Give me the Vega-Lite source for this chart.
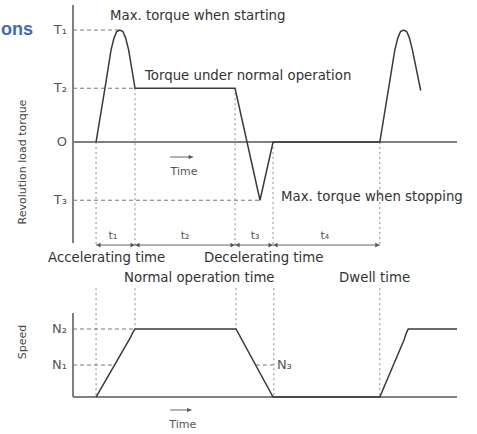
{
"$schema":"https://vega.github.io/schema/vega-lite/v6.json",
"width":477,"height":434,"padding":0,
"autosize":{"type":"fit","contains":"padding"},
"background":"white",
"config":{"view":{"stroke":null},"text":{"font":"DejaVu Sans","baseline":"middle"}},
"datasets":{
"torqueCurve":[{"t":6.0,"v":0},{"t":8.33,"v":48},{"t":9.9,"v":82},{"t":10.7,"v":93},{"t":11.4,"v":98.6},{"t":12.24,"v":100},{"t":13.0,"v":98.6},{"t":13.7,"v":93},{"t":14.5,"v":82},{"t":16.15,"v":48},{"t":42.2,"v":48},{"t":48.7,"v":-52},{"t":52.1,"v":0},{"t":79.9,"v":0},{"t":82.2,"v":48},{"t":83.8,"v":82},{"t":84.6,"v":93},{"t":85.3,"v":98.6},{"t":86.1,"v":100},{"t":86.9,"v":98.6},{"t":87.6,"v":93},{"t":88.4,"v":82},{"t":90.55,"v":46}],
"speedCurve":[{"t":6.0,"v":0},{"t":14.9,"v":86.8},{"t":15.6,"v":95},{"t":16.15,"v":100},{"t":42.45,"v":100},{"t":52.1,"v":0},{"t":79.9,"v":0},{"t":86.2,"v":83.8},{"t":86.8,"v":94},{"t":87.3,"v":100},{"t":100,"v":100}],
"torqueDotted":[{"t":6.0,"v":0,"v2":-92},{"t":16.15,"v":48,"v2":-92},{"t":42.2,"v":48,"v2":-92},{"t":52.1,"v":0,"v2":-92},{"t":79.9,"v":0,"v2":-92}],
"speedDotted":[{"t":6.0,"v":160,"v2":0},{"t":16.15,"v":160,"v2":100},{"t":42.45,"v":160,"v2":100},{"t":52.3,"v":160,"v2":0},{"t":79.9,"v":160,"v2":0}],
"torqueDashed":[{"t":0,"t2":12.24,"v":100},{"t":0,"t2":16.15,"v":48},{"t":0,"t2":48.7,"v":-52}],
"speedDashed":[{"t":0,"t2":16.15,"v":100},{"t":0,"t2":10.9,"v":47},{"t":47.6,"t2":52.2,"v":47}],
"torqueAxes":[{"t":0,"t2":0,"v":122.3,"v2":-90.2},{"t":0,"t2":100,"v":0,"v2":0}],
"speedAxes":[{"t":0,"t2":0,"v":123.5,"v2":0},{"t":0,"t2":100,"v":0,"v2":0}],
"torqueArrows":[{"t":6.0,"t2":79.9,"v":-92},{"t":25.3,"t2":31.3,"v":-13.4}],
"torqueHeadsR":[{"t":16.15,"v":-92},{"t":42.2,"v":-92},{"t":52.1,"v":-92},{"t":79.9,"v":-92},{"t":31.3,"v":-13.4}],
"torqueHeadsL":[{"t":6.0,"v":-92},{"t":16.15,"v":-92},{"t":42.2,"v":-92},{"t":52.1,"v":-92}],
"speedArrows":[{"t":25.3,"t2":30.9,"v":-19.1}],
"speedHeadsR":[{"t":30.9,"v":-19.1}],
"torqueLabels":[
{"t":9.64,"v":112.5,"text":"Max. torque when starting","kind":"left"},
{"t":18.75,"v":58.9,"text":"Torque under normal operation","kind":"left"},
{"t":54.2,"v":-49.1,"text":"Max. torque when stopping","kind":"left"},
{"t":-6.5,"v":-103.6,"text":"Accelerating time","kind":"left"},
{"t":34.1,"v":-103.6,"text":"Decelerating time","kind":"left"},
{"t":13.3,"v":-121.4,"text":"Normal operation time","kind":"left"},
{"t":69.3,"v":-121.4,"text":"Dwell time","kind":"left"},
{"t":-1.56,"v":100,"text":"T₁","kind":"tick"},
{"t":-1.56,"v":48,"text":"T₂","kind":"tick"},
{"t":-1.56,"v":0,"text":"O","kind":"tick"},
{"t":-1.56,"v":-52,"text":"T₃","kind":"tick"},
{"t":10.4,"v":-83.9,"text":"t₁","kind":"small"},
{"t":29.2,"v":-83.9,"text":"t₂","kind":"small"},
{"t":47.4,"v":-83.9,"text":"t₃","kind":"small"},
{"t":65.6,"v":-83.9,"text":"t₄","kind":"small"},
{"t":28.9,"v":-26.8,"text":"Time","kind":"small"},
{"t":-13.0,"v":-17.9,"text":"Revolution load torque","kind":"rot"},
{"t":-10.4,"v":100,"text":"ons","kind":"brand"}
],
"speedLabels":[
{"t":-1.56,"v":100,"text":"N₂","kind":"tick"},
{"t":-1.56,"v":47,"text":"N₁","kind":"tick"},
{"t":53.1,"v":47,"text":"N₃","kind":"left"},
{"t":28.6,"v":-41.2,"text":"Time","kind":"small"},
{"t":-13.0,"v":80.9,"text":"Speed","kind":"rot"}
]
},
"layer":[
{"layer":[
{"data":{"name":"torqueDotted"},"mark":{"type":"rule","color":"#8a8a8a","strokeWidth":1,"strokeDash":[2,3]},
 "encoding":{"x":{"field":"t","type":"quantitative","scale":{"domain":[-19.01,105.21],"nice":false,"zero":false},"axis":null},
  "y":{"field":"v","type":"quantitative","scale":{"domain":[-260.71,126.79],"nice":false,"zero":false},"axis":null},"y2":{"field":"v2"}}},
{"data":{"name":"torqueDashed"},"mark":{"type":"rule","color":"#777","strokeWidth":1,"strokeDash":[4,3]},
 "encoding":{"x":{"field":"t","type":"quantitative","scale":{"domain":[-19.01,105.21],"nice":false,"zero":false},"axis":null},"x2":{"field":"t2"},
  "y":{"field":"v","type":"quantitative","scale":{"domain":[-260.71,126.79],"nice":false,"zero":false},"axis":null}}},
{"data":{"name":"torqueAxes"},"mark":{"type":"rule","color":"#808080","strokeWidth":2},
 "encoding":{"x":{"field":"t","type":"quantitative","scale":{"domain":[-19.01,105.21],"nice":false,"zero":false},"axis":null},"x2":{"field":"t2"},
  "y":{"field":"v","type":"quantitative","scale":{"domain":[-260.71,126.79],"nice":false,"zero":false},"axis":null},"y2":{"field":"v2"}}},
{"data":{"name":"torqueCurve"},"mark":{"type":"line","color":"#3a3a3a","strokeWidth":1.5},
 "encoding":{"x":{"field":"t","type":"quantitative","scale":{"domain":[-19.01,105.21],"nice":false,"zero":false},"axis":null},
  "y":{"field":"v","type":"quantitative","scale":{"domain":[-260.71,126.79],"nice":false,"zero":false},"axis":null}}},
{"data":{"name":"torqueArrows"},"mark":{"type":"rule","color":"#666","strokeWidth":1},
 "encoding":{"x":{"field":"t","type":"quantitative","scale":{"domain":[-19.01,105.21],"nice":false,"zero":false},"axis":null},"x2":{"field":"t2"},
  "y":{"field":"v","type":"quantitative","scale":{"domain":[-260.71,126.79],"nice":false,"zero":false},"axis":null}}},
{"data":{"name":"torqueHeadsR"},"mark":{"type":"point","shape":"triangle-right","filled":true,"color":"#555","size":22,"xOffset":-2.5,"opacity":1},
 "encoding":{"x":{"field":"t","type":"quantitative","scale":{"domain":[-19.01,105.21],"nice":false,"zero":false},"axis":null},
  "y":{"field":"v","type":"quantitative","scale":{"domain":[-260.71,126.79],"nice":false,"zero":false},"axis":null}}},
{"data":{"name":"torqueHeadsL"},"mark":{"type":"point","shape":"triangle-left","filled":true,"color":"#555","size":22,"xOffset":2.5,"opacity":1},
 "encoding":{"x":{"field":"t","type":"quantitative","scale":{"domain":[-19.01,105.21],"nice":false,"zero":false},"axis":null},
  "y":{"field":"v","type":"quantitative","scale":{"domain":[-260.71,126.79],"nice":false,"zero":false},"axis":null}}},
{"data":{"name":"torqueLabels"},"transform":[{"filter":"datum.kind==='left'"}],"mark":{"type":"text","align":"left","fontSize":13.3,"color":"#333"},
 "encoding":{"x":{"field":"t","type":"quantitative","scale":{"domain":[-19.01,105.21],"nice":false,"zero":false},"axis":null},
  "y":{"field":"v","type":"quantitative","scale":{"domain":[-260.71,126.79],"nice":false,"zero":false},"axis":null},"text":{"field":"text"}}},
{"data":{"name":"torqueLabels"},"transform":[{"filter":"datum.kind==='tick'"}],"mark":{"type":"text","align":"right","fontSize":13,"color":"#555"},
 "encoding":{"x":{"field":"t","type":"quantitative","scale":{"domain":[-19.01,105.21],"nice":false,"zero":false},"axis":null},
  "y":{"field":"v","type":"quantitative","scale":{"domain":[-260.71,126.79],"nice":false,"zero":false},"axis":null},"text":{"field":"text"}}},
{"data":{"name":"torqueLabels"},"transform":[{"filter":"datum.kind==='small'"}],"mark":{"type":"text","align":"center","fontSize":11,"color":"#555"},
 "encoding":{"x":{"field":"t","type":"quantitative","scale":{"domain":[-19.01,105.21],"nice":false,"zero":false},"axis":null},
  "y":{"field":"v","type":"quantitative","scale":{"domain":[-260.71,126.79],"nice":false,"zero":false},"axis":null},"text":{"field":"text"}}},
{"data":{"name":"torqueLabels"},"transform":[{"filter":"datum.kind==='rot'"}],"mark":{"type":"text","align":"center","fontSize":11,"angle":270,"color":"#444"},
 "encoding":{"x":{"field":"t","type":"quantitative","scale":{"domain":[-19.01,105.21],"nice":false,"zero":false},"axis":null},
  "y":{"field":"v","type":"quantitative","scale":{"domain":[-260.71,126.79],"nice":false,"zero":false},"axis":null},"text":{"field":"text"}}},
{"data":{"name":"torqueLabels"},"transform":[{"filter":"datum.kind==='brand'"}],"mark":{"type":"text","align":"right","fontSize":18,"font":"Liberation Sans","fontWeight":"bold","color":"#4169c0"},
 "encoding":{"x":{"field":"t","type":"quantitative","scale":{"domain":[-19.01,105.21],"nice":false,"zero":false},"axis":null},
  "y":{"field":"v","type":"quantitative","scale":{"domain":[-260.71,126.79],"nice":false,"zero":false},"axis":null},"text":{"field":"text"}}}
]},
{"layer":[
{"data":{"name":"speedDotted"},"mark":{"type":"rule","color":"#8a8a8a","strokeWidth":1,"strokeDash":[2,3]},
 "encoding":{"x":{"field":"t","type":"quantitative","scale":{"domain":[-19.01,105.21],"nice":false,"zero":false},"axis":null},
  "y":{"field":"v","type":"quantitative","scale":{"domain":[-54.41,583.82],"nice":false,"zero":false},"axis":null},"y2":{"field":"v2"}}},
{"data":{"name":"speedDashed"},"mark":{"type":"rule","color":"#777","strokeWidth":1,"strokeDash":[4,3]},
 "encoding":{"x":{"field":"t","type":"quantitative","scale":{"domain":[-19.01,105.21],"nice":false,"zero":false},"axis":null},"x2":{"field":"t2"},
  "y":{"field":"v","type":"quantitative","scale":{"domain":[-54.41,583.82],"nice":false,"zero":false},"axis":null}}},
{"data":{"name":"speedAxes"},"mark":{"type":"rule","color":"#808080","strokeWidth":2},
 "encoding":{"x":{"field":"t","type":"quantitative","scale":{"domain":[-19.01,105.21],"nice":false,"zero":false},"axis":null},"x2":{"field":"t2"},
  "y":{"field":"v","type":"quantitative","scale":{"domain":[-54.41,583.82],"nice":false,"zero":false},"axis":null},"y2":{"field":"v2"}}},
{"data":{"name":"speedCurve"},"mark":{"type":"line","color":"#3a3a3a","strokeWidth":1.5},
 "encoding":{"x":{"field":"t","type":"quantitative","scale":{"domain":[-19.01,105.21],"nice":false,"zero":false},"axis":null},
  "y":{"field":"v","type":"quantitative","scale":{"domain":[-54.41,583.82],"nice":false,"zero":false},"axis":null}}},
{"data":{"name":"speedArrows"},"mark":{"type":"rule","color":"#666","strokeWidth":1},
 "encoding":{"x":{"field":"t","type":"quantitative","scale":{"domain":[-19.01,105.21],"nice":false,"zero":false},"axis":null},"x2":{"field":"t2"},
  "y":{"field":"v","type":"quantitative","scale":{"domain":[-54.41,583.82],"nice":false,"zero":false},"axis":null}}},
{"data":{"name":"speedHeadsR"},"mark":{"type":"point","shape":"triangle-right","filled":true,"color":"#555","size":22,"xOffset":-2.5,"opacity":1},
 "encoding":{"x":{"field":"t","type":"quantitative","scale":{"domain":[-19.01,105.21],"nice":false,"zero":false},"axis":null},
  "y":{"field":"v","type":"quantitative","scale":{"domain":[-54.41,583.82],"nice":false,"zero":false},"axis":null}}},
{"data":{"name":"speedLabels"},"transform":[{"filter":"datum.kind==='left'"}],"mark":{"type":"text","align":"left","fontSize":13,"color":"#555"},
 "encoding":{"x":{"field":"t","type":"quantitative","scale":{"domain":[-19.01,105.21],"nice":false,"zero":false},"axis":null},
  "y":{"field":"v","type":"quantitative","scale":{"domain":[-54.41,583.82],"nice":false,"zero":false},"axis":null},"text":{"field":"text"}}},
{"data":{"name":"speedLabels"},"transform":[{"filter":"datum.kind==='tick'"}],"mark":{"type":"text","align":"right","fontSize":13,"color":"#555"},
 "encoding":{"x":{"field":"t","type":"quantitative","scale":{"domain":[-19.01,105.21],"nice":false,"zero":false},"axis":null},
  "y":{"field":"v","type":"quantitative","scale":{"domain":[-54.41,583.82],"nice":false,"zero":false},"axis":null},"text":{"field":"text"}}},
{"data":{"name":"speedLabels"},"transform":[{"filter":"datum.kind==='small'"}],"mark":{"type":"text","align":"center","fontSize":11,"color":"#555"},
 "encoding":{"x":{"field":"t","type":"quantitative","scale":{"domain":[-19.01,105.21],"nice":false,"zero":false},"axis":null},
  "y":{"field":"v","type":"quantitative","scale":{"domain":[-54.41,583.82],"nice":false,"zero":false},"axis":null},"text":{"field":"text"}}},
{"data":{"name":"speedLabels"},"transform":[{"filter":"datum.kind==='rot'"}],"mark":{"type":"text","align":"center","fontSize":11,"angle":270,"color":"#444"},
 "encoding":{"x":{"field":"t","type":"quantitative","scale":{"domain":[-19.01,105.21],"nice":false,"zero":false},"axis":null},
  "y":{"field":"v","type":"quantitative","scale":{"domain":[-54.41,583.82],"nice":false,"zero":false},"axis":null},"text":{"field":"text"}}}
]}
],
"resolve":{"scale":{"y":"independent"}}
}
